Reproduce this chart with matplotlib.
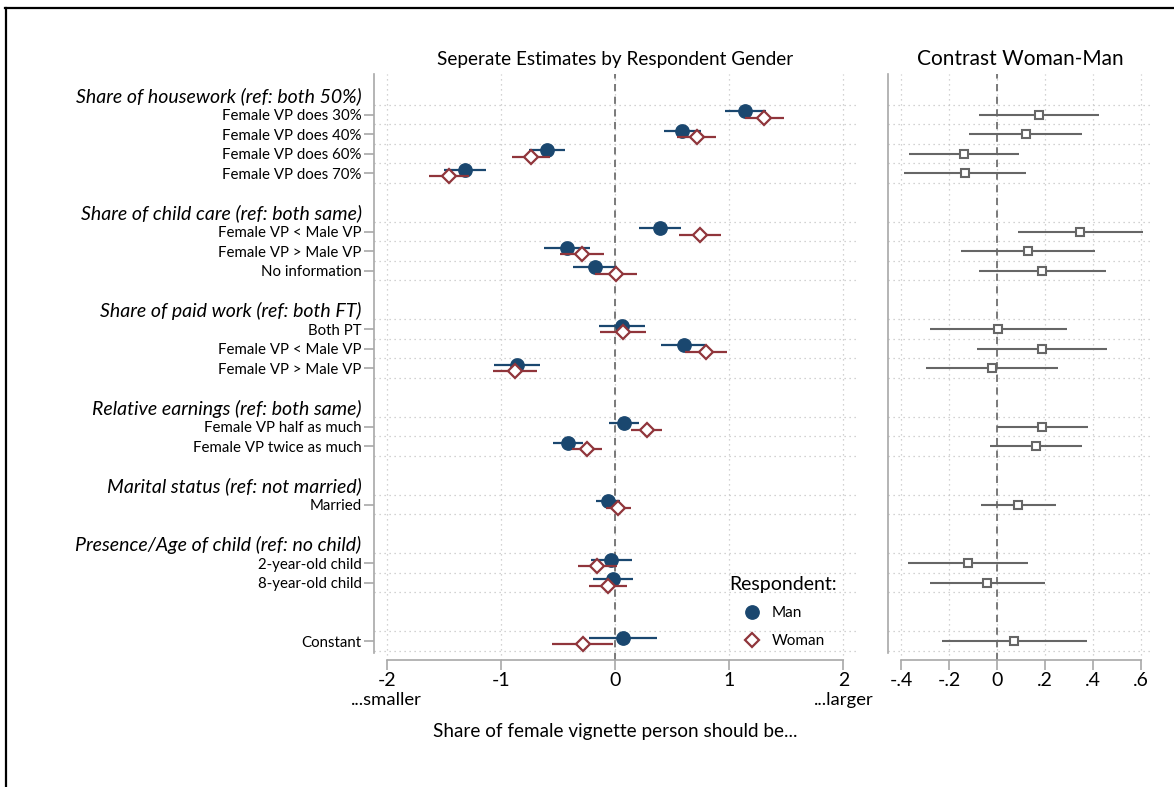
import numpy as np
import matplotlib.pyplot as plt
import matplotlib.transforms as mtransforms
from matplotlib.lines import Line2D

plt.rcParams['font.family'] = ['Lato', 'DejaVu Sans']
plt.rcParams['axes.unicode_minus'] = False

# Variable groups (header + items), constant is listed separately
headers = ["Share of housework (ref: both 50%)",
           "Share of child care (ref: both same)",
           "Share of paid work (ref: both FT)",
           "Relative earnings (ref: both same)",
           "Marital status (ref: not married)",
           "Presence/Age of child (ref: no child)"]
group_sizes = [4, 3, 3, 2, 1, 2]
labels = ["Female VP does 30%", "Female VP does 40%", "Female VP does 60%", "Female VP does 70%",
          "Female VP < Male VP", "Female VP > Male VP", "No information",
          "Both PT", "Female VP < Male VP", "Female VP > Male VP",
          "Female VP half as much", "Female VP twice as much",
          "Married",
          "2-year-old child", "8-year-old child",
          "Constant"]

# Respondent: man
man_est = [1.14, 0.59, -0.595, -1.313, 0.397, -0.417, -0.175, 0.064, 0.601, -0.858,
           0.082, -0.409, -0.061, -0.032, -0.015, 0.073]
man_lo = [0.96, 0.429, -0.753, -1.497, 0.213, -0.621, -0.365, -0.143, 0.403, -1.057,
          -0.050, -0.546, -0.166, -0.213, -0.190, -0.231]
man_hi = [1.32, 0.750, -0.438, -1.132, 0.581, -0.216, 0.015, 0.265, 0.790, -0.657,
          0.213, -0.278, 0.044, 0.152, 0.155, 0.371]

# Respondent: woman
woman_est = [1.308, 0.715, -0.735, -1.451, 0.744, -0.289, 0.009, 0.073, 0.794, -0.873,
             0.277, -0.245, 0.029, -0.155, -0.064, -0.283]
woman_lo = [1.138, 0.546, -0.899, -1.626, 0.560, -0.479, -0.172, -0.129, 0.613, -1.066,
            0.140, -0.379, -0.076, -0.327, -0.231, -0.549]
woman_hi = [1.483, 0.882, -0.572, -1.276, 0.928, -0.099, 0.195, 0.271, 0.978, -0.686,
            0.412, -0.111, 0.137, 0.018, 0.102, -0.017]

# Contrast woman - man
diff_est = [0.175, 0.119, -0.139, -0.133, 0.347, 0.129, 0.189, 0.006, 0.186, -0.019,
            0.189, 0.163, 0.088, -0.121, -0.040, 0.072]
diff_lo = [-0.075, -0.115, -0.367, -0.386, 0.088, -0.149, -0.075, -0.279, -0.085, -0.296,
           0.0, -0.029, -0.068, -0.371, -0.279, -0.229]
diff_hi = [0.426, 0.356, 0.090, 0.121, 0.607, 0.408, 0.454, 0.293, 0.458, 0.256,
           0.381, 0.354, 0.244, 0.131, 0.199, 0.374]

left_ticks = [-2, -1, 0, 1, 2]
right_ticks = [-0.4, -0.2, 0, 0.2, 0.4, 0.6]
right_ticklabels = ["-.4", "-.2", "0", ".2", ".4", ".6"]

navy = '#1a476f'
maroon = '#90353b'
gray = '#666666'
axisgray = '#a8a8a8'
gridgray = '#c4c4c4'

# row positions: header, items, blank line per group; constant two rows later
header_pos, item_pos = [], []
r = 0
for n in group_sizes:
    header_pos.append(r)
    item_pos += list(range(r + 1, r + 1 + n))
    r += n + 2
item_pos.append(r + 1)
item_pos = np.array(item_pos, dtype=float)

fig = plt.figure(figsize=(11.74, 7.87), dpi=100)
W, H = 1174, 787
ax = fig.add_axes([374 / W, 1 - 660 / H, (856 - 374) / W, (660 - 74) / H])
ax2 = fig.add_axes([888 / W, 1 - 660 / H, (1153 - 888) / W, (660 - 74) / H])

ylim = (28.97, -1.08)
grid_rows = sorted(set(np.concatenate([item_pos - 0.5, item_pos + 0.5])))

for a, lim in [(ax, (-2.11, 2.11)), (ax2, (-0.454, 0.65))]:
    a.set_ylim(*ylim)
    a.set_xlim(*lim)
    a.set_yticks(grid_rows, minor=True)
    a.grid(True, which='minor', axis='y', color=gridgray, ls=(0, (1, 3)), lw=0.9)
    a.grid(True, which='major', axis='x', color=gridgray, ls=(0, (1, 3)), lw=0.9)
    a.tick_params(axis='y', which='minor', length=0)
    a.axvline(0, color='#707070', ls=(0, (4, 3)), lw=1.3, zorder=1.5)
    for s in ['top', 'right']:
        a.spines[s].set_visible(False)
    a.spines['left'].set_color(axisgray)
    a.spines['bottom'].set_color(axisgray)
    a.spines['left'].set_linewidth(1.2)
    a.spines['bottom'].set_linewidth(1.2)
    a.spines['left'].set_bounds(-1.08, 28.6)
    a.tick_params(axis='x', direction='out', length=7, color=axisgray, width=1.2,
                  labelsize=14, pad=2)
    a.set_axisbelow(True)

# left panel: separate estimates
off = 0.17
man_x = np.array(man_est)
woman_x = np.array(woman_est)
ax.errorbar(man_x, item_pos - off,
            xerr=[man_x - np.array(man_lo), np.array(man_hi) - man_x],
            fmt='o', color=navy, ms=9.6, elinewidth=1.6, capsize=0, zorder=3)
ax.errorbar(woman_x, item_pos + off,
            xerr=[woman_x - np.array(woman_lo), np.array(woman_hi) - woman_x],
            fmt='D', color=maroon, mfc='white', mec=maroon, mew=1.6, ms=7.6,
            elinewidth=1.6, capsize=0, zorder=4)
ax.set_xticks(left_ticks)
ax.set_xticklabels([str(t) for t in left_ticks])
ax.spines['bottom'].set_bounds(-2, 2)

ticks = list(header_pos) + list(item_pos)
ticklabels = headers + labels
order = np.argsort(ticks)
ax.set_yticks([ticks[i] for i in order])
ax.set_yticklabels([ticklabels[i] for i in order])
ax.tick_params(axis='y', which='major', direction='out', length=7, color=axisgray,
               width=1.2, labelsize=10.8, pad=2)
for t in ax.yaxis.get_major_ticks():
    if t.get_loc() in header_pos:
        t.tick1line.set_visible(False)
        t.label1.set_fontstyle('italic')
        t.label1.set_fontsize(14)

# right panel: contrast
d_x = np.array(diff_est)
ax2.errorbar(d_x, item_pos,
             xerr=[d_x - np.array(diff_lo), np.array(diff_hi) - d_x],
             fmt='s', color=gray, mfc='white', mec=gray, mew=1.5, ms=6.2,
             elinewidth=1.5, capsize=0, zorder=3)
ax2.set_xticks(right_ticks)
ax2.set_xticklabels(right_ticklabels)
ax2.spines['bottom'].set_bounds(-0.4, 0.6)
ax2.set_yticks([])

# titles and axis texts
fig.text(615 / W, 1 - 59 / H, "Seperate Estimates by Respondent Gender",
         ha='center', va='center', fontsize=13.6)
fig.text(1020 / W, 1 - 59 / H, "Contrast Woman-Man",
         ha='center', va='center', fontsize=15)
trans = mtransforms.blended_transform_factory(ax.transData, fig.transFigure)
ax.text(-2, 1 - 700 / H, "...smaller", transform=trans, ha='center', va='center', fontsize=13.3)
ax.text(2, 1 - 700 / H, "...larger", transform=trans, ha='center', va='center', fontsize=13.3)
fig.text(615 / W, 1 - 731 / H, "Share of female vignette person should be...",
         ha='center', va='center', fontsize=13.6)

handles = [Line2D([], [], marker='o', ls='none', color=navy, ms=9.6),
           Line2D([], [], marker='D', ls='none', mfc='white', mec=maroon, mew=1.6, ms=7.6)]
ax.legend(handles, ['Man', 'Woman'], title='Respondent:', loc='upper center',
          bbox_to_anchor=(783 / W, 1 - 568 / H), bbox_transform=fig.transFigure,
          frameon=False, fontsize=11, title_fontsize=14, labelspacing=0.9,
          handletextpad=0.6, handlelength=1.4, borderpad=0)

# outer frame edges
fig.add_artist(Line2D([6 / W, 6 / W], [0, 1 - 8 / H], color='black', lw=1.6))
fig.add_artist(Line2D([5 / W, 1], [1 - 8 / H, 1 - 8 / H], color='black', lw=1.6))

fig.savefig('out.png', dpi=100)
